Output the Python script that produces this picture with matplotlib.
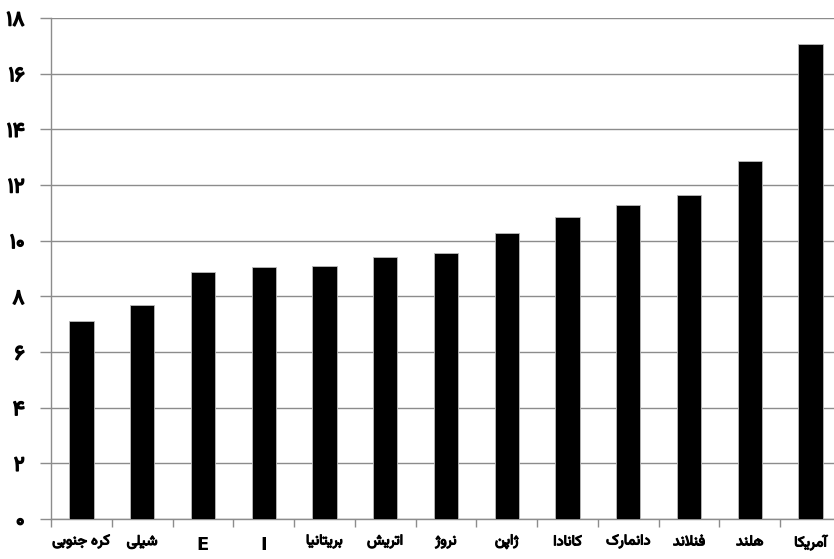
import matplotlib
matplotlib.use('Agg')
import matplotlib.pyplot as plt
import matplotlib.patheffects as pe

# کشورها و مقادیر (خوانده شده از تصویر)
countries = ['کره جنوبی', 'شیلی', 'E', 'I', 'بریتانیا', 'اتریش', 'نروژ',
             'ژاپن', 'کانادا', 'دانمارک', 'فنلاند', 'هلند', 'آمریکا']
values = [7.13, 7.70, 8.86, 9.07, 9.08, 9.40, 9.54, 10.26, 10.84, 11.27, 11.63, 12.85, 17.06]
yticks = [0, 2, 4, 6, 8, 10, 12, 14, 16, 18]

# matplotlib حروف عربی را به هم نمی‌چسباند، پس شکل‌ها را دستی می‌سازیم
# (isolated, final, initial, medial)
FORMS = {
    'ا': (0xFE8D, 0xFE8E, None, None),
    'آ': (0xFE81, 0xFE82, None, None),
    'ب': (0xFE8F, 0xFE90, 0xFE91, 0xFE92),
    'پ': (0xFB56, 0xFB57, 0xFB58, 0xFB59),
    'ت': (0xFE95, 0xFE96, 0xFE97, 0xFE98),
    'ج': (0xFE9D, 0xFE9E, 0xFE9F, 0xFEA0),
    'د': (0xFEA9, 0xFEAA, None, None),
    'ر': (0xFEAD, 0xFEAE, None, None),
    'ز': (0xFEAF, 0xFEB0, None, None),
    'ژ': (0xFB8A, 0xFB8B, None, None),
    'ش': (0xFEB5, 0xFEB6, 0xFEB7, 0xFEB8),
    'ف': (0xFED1, 0xFED2, 0xFED3, 0xFED4),
    'ک': (0xFB8E, 0xFB8F, 0xFB90, 0xFB91),
    'ل': (0xFEDD, 0xFEDE, 0xFEDF, 0xFEE0),
    'م': (0xFEE1, 0xFEE2, 0xFEE3, 0xFEE4),
    'ن': (0xFEE5, 0xFEE6, 0xFEE7, 0xFEE8),
    'ه': (0xFEE9, 0xFEEA, 0xFEEB, 0xFEEC),
    'و': (0xFEED, 0xFEEE, None, None),
    'ی': (0xFBFC, 0xFBFD, 0xFBFE, 0xFBFF),
}
LAM_ALEF = {'ا': (0xFEFB, 0xFEFC), 'آ': (0xFEF5, 0xFEF6)}


def joins_next(ch):
    return ch in FORMS and FORMS[ch][2] is not None


def shape(text):
    if not any(c in FORMS for c in text):
        return text
    out = []
    i = 0
    while i < len(text):
        c = text[i]
        prev = text[i - 1] if i > 0 else ''
        nxt = text[i + 1] if i + 1 < len(text) else ''
        if c not in FORMS:
            out.append(c)
            i += 1
            continue
        p = joins_next(prev)
        if c == 'ل' and nxt in LAM_ALEF:
            out.append(chr(LAM_ALEF[nxt][1 if p else 0]))
            i += 2
            continue
        n = joins_next(c) and nxt in FORMS
        iso, fin, ini, med = FORMS[c]
        if p and n:
            g = med
        elif p:
            g = fin
        elif n:
            g = ini
        else:
            g = iso
        out.append(chr(g))
        i += 1
    return ''.join(out)[::-1]


def fa_digits(n):
    return ''.join(chr(0x06F0 + int(d)) for d in str(n))


fig = plt.figure(figsize=(8.34, 5.59), dpi=100)
ax = fig.add_axes([51 / 834, 1 - 519 / 559, 790 / 834, 501 / 559])

x = list(range(len(countries)))
ax.bar(x, values, width=0.4, color='black', edgecolor='#bbbbbb', linewidth=0.6, zorder=3)

ax.set_ylim(0, 18)
ax.set_xlim(-0.5, len(countries) - 0.5)
ax.set_yticks(yticks)
ax.set_yticklabels([fa_digits(v) for v in yticks], family='Vazirmatn', fontsize=15,
                   color='black')
ax.yaxis.grid(True, color='#8c8c8c', linewidth=1.0, zorder=0)
ax.tick_params(axis='y', length=8, color='#8c8c8c', width=1.0, pad=11)

# تیک‌های محور افقی بین دسته‌ها
ax.set_xticks([i - 0.5 for i in range(len(countries) + 1)])
ax.set_xticklabels([])
ax.tick_params(axis='x', length=6, color='#8c8c8c', width=1.0)

for i, name in enumerate(countries):
    if name.isascii():
        ax.text(i, -0.62, name, ha='center', va='top', fontsize=13, fontweight='bold',
                family='DejaVu Sans', transform=ax.transData)
    else:
        ax.text(i, -0.55, shape(name), ha='center', va='top', fontsize=10.5,
                family='Vazirmatn', transform=ax.transData,
                path_effects=[pe.withStroke(linewidth=0.8, foreground='black')])

for lbl in ax.get_yticklabels():
    lbl.set_path_effects([pe.withStroke(linewidth=1.1, foreground='black')])

for s in ['top', 'right']:
    ax.spines[s].set_visible(False)
for s in ['left', 'bottom']:
    ax.spines[s].set_color('#8c8c8c')
    ax.spines[s].set_linewidth(1.0)

fig.savefig('out.png', dpi=100)
